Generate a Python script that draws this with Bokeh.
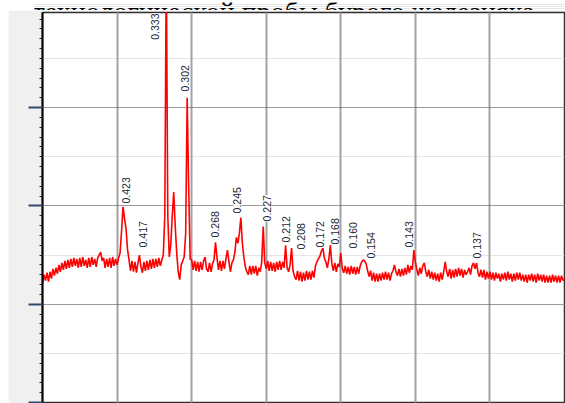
import math
from bokeh.plotting import figure
from bokeh.layouts import column
from bokeh.models import (Range1d, FixedTicker, LinearAxis, LabelSet, ColumnDataSource,
                          Label, Grid)
from bokeh.embed import file_html
from bokeh.resources import INLINE
from bokeh.core.properties import value

# ---------------- data ----------------
caption = "технологической пробы бурого железняка."

scan_start = 10.0   # 2-theta, degrees
scan_step = 0.2
intensity = [
    1210, 1300, 1240, 1320, 1230,   # 10
    1330, 1260, 1360, 1290, 1370,   # 11
    1310, 1400, 1330, 1420, 1350,   # 12
    1440, 1360, 1450, 1370, 1460,   # 13
    1380, 1470, 1390, 1460, 1370,   # 14
    1470, 1380, 1480, 1390, 1450,   # 15
    1370, 1470, 1380, 1480, 1400,   # 16
    1460, 1380, 1470, 1500, 1530,   # 17
    1440, 1470, 1370, 1460, 1380,   # 18
    1470, 1370, 1480, 1390, 1460,   # 19
    1400, 1470, 1520, 1740, 1990,   # 20
    1870, 1770, 1560, 1450, 1340,   # 21
    1440, 1330, 1430, 1320, 1420,   # 22
    1500, 1380, 1320, 1430, 1340,   # 23
    1440, 1350, 1450, 1360, 1460,   # 24
    1370, 1460, 1380, 1470, 1390,   # 25
    1450, 1500, 1900, 4500, 1900,   # 26
    1480, 1600, 1900, 2140, 1790,   # 27
    1520, 1330, 1250, 1400, 1440,   # 28
    1480, 1720, 3100, 2200, 1460,   # 29
    1450, 1350, 1440, 1340, 1430,   # 30
    1330, 1430, 1350, 1440, 1480,   # 31
    1360, 1330, 1420, 1330, 1410,   # 32
    1450, 1630, 1470, 1350, 1440,   # 33
    1340, 1440, 1360, 1460, 1550,   # 34
    1430, 1330, 1420, 1450, 1530,   # 35
    1680, 1620, 1720, 1880, 1620,   # 36
    1480, 1380, 1330, 1300, 1390,   # 37
    1300, 1390, 1310, 1390, 1290,   # 38
    1370, 1330, 1430, 1790, 1420,   # 39
    1360, 1440, 1340, 1430, 1340,   # 40
    1420, 1330, 1430, 1350, 1440,   # 41
    1350, 1430, 1370, 1600, 1370,   # 42
    1330, 1400, 1570, 1340, 1280,   # 43
    1250, 1340, 1240, 1330, 1230,   # 44
    1320, 1240, 1340, 1250, 1330,   # 45
    1250, 1340, 1270, 1390, 1430,   # 46
    1460, 1490, 1540, 1570, 1470,   # 47
    1430, 1370, 1460, 1600, 1410,   # 48
    1340, 1420, 1330, 1410, 1380,   # 49
    1520, 1360, 1320, 1390, 1310,   # 50
    1380, 1300, 1390, 1310, 1380,   # 51
    1300, 1380, 1310, 1390, 1430,   # 52
    1450, 1440, 1410, 1340, 1280,   # 53
    1340, 1240, 1320, 1230, 1310,   # 54
    1230, 1310, 1240, 1320, 1250,   # 55
    1330, 1250, 1320, 1240, 1310,   # 56
    1340, 1400, 1330, 1290, 1360,   # 57
    1280, 1360, 1290, 1370, 1300,   # 58
    1400, 1320, 1390, 1350, 1550,   # 59
    1430, 1350, 1290, 1370, 1310,   # 60
    1390, 1420, 1330, 1280, 1350,   # 61
    1260, 1330, 1250, 1320, 1240,   # 62
    1310, 1230, 1320, 1250, 1330,   # 63
    1430, 1330, 1280, 1360, 1260,   # 64
    1350, 1270, 1360, 1280, 1370,   # 65
    1290, 1360, 1270, 1350, 1300,   # 66
    1330, 1370, 1300, 1390, 1420,   # 67
    1360, 1420, 1320, 1280, 1350,   # 68
    1270, 1350, 1250, 1330, 1260,   # 69
    1330, 1250, 1320, 1240, 1320,   # 70
    1260, 1310, 1230, 1310, 1250,   # 71
    1320, 1240, 1330, 1250, 1310,   # 72
    1230, 1310, 1240, 1320, 1250,   # 73
    1320, 1240, 1300, 1230, 1300,   # 74
    1220, 1300, 1240, 1310, 1230,   # 75
    1300, 1220, 1310, 1240, 1300,   # 76
    1230, 1300, 1220, 1290, 1220,   # 77
    1290, 1220, 1300, 1230, 1290,   # 78
    1220, 1290, 1220, 1290, 1240,   # 79
    1260,                           # 80
]
two_theta = [round(scan_start + scan_step * i, 2) for i in range(len(intensity))]

# peak annotations: d-spacing (nm), label 2-theta, intensity at label start
peak_d = ["0.333", "0.302", "0.423", "0.417", "0.268", "0.245", "0.227", "0.212",
          "0.208", "0.172", "0.168", "0.160", "0.154", "0.143", "0.137"]
peak_label_2theta = [25.15, 29.11, 21.20, 23.54, 33.20, 36.15, 40.17, 42.65,
                     44.60, 47.28, 49.16, 51.64, 53.99, 59.21, 68.27]
peak_label_int = [3690, 3164, 2024, 1577, 1679, 1923, 1842, 1628,
                  1557, 1577, 1607, 1567, 1465, 1577, 1465]

grid_2theta = [20, 30, 40, 50, 60, 70]
grid_int = [1000, 2000, 3000]
minor_int = [v for v in range(100, 3901, 100) if v % 1000 != 0]

# ---------------- caption strip (cut off at the top of the page) ----------------
cap_fig = figure(width=565, height=10, output_backend="svg", toolbar_location=None,
                 x_range=Range1d(0, 1), y_range=Range1d(0, 1),
                 x_axis_location=None, y_axis_location=None,
                 min_border=0, outline_line_color=None,
                 background_fill_color="white", border_fill_color="white")
cap = Label(x=-2, y=1, x_units="screen", y_units="screen", text=caption,
            text_font="Liberation Serif", text_font_size="28px",
            text_baseline="alphabetic", text_color="black")
cap_fig.add_layout(cap)

# ---------------- main chart ----------------
p = figure(width=557, height=393, output_backend="svg", toolbar_location=None,
           x_range=Range1d(10, 80), y_range=Range1d(0, 3967),
           x_axis_location=None, y_axis_location=None,
           min_border_left=34, min_border_right=1, min_border_top=2, min_border_bottom=1,
           background_fill_color="white", border_fill_color="#f0f0f0",
           outline_line_color="#303030", outline_line_width=1.5,
           styles={"margin-left": "8px"})

xg = Grid(dimension=0, ticker=FixedTicker(ticks=grid_2theta),
          grid_line_color="#a3a3a3", grid_line_width=2)
yg = Grid(dimension=1, ticker=FixedTicker(ticks=grid_int),
          grid_line_color="#505050", grid_line_width=1, grid_line_dash="1 1")
p.add_layout(xg)
p.add_layout(yg)

yax = LinearAxis(ticker=FixedTicker(ticks=[0] + grid_int, minor_ticks=minor_int),
                 major_tick_out=14, major_tick_in=0, major_tick_line_color="#2e4a6a",
                 major_tick_line_width=2,
                 minor_tick_out=3, minor_tick_in=0, minor_tick_line_color="#202020",
                 axis_line_color="black", axis_line_width=2,
                 major_label_overrides={0: "", 1000: "", 2000: "", 3000: ""},
                 major_label_standoff=0)
p.add_layout(yax, "left")

src = ColumnDataSource(dict(x=two_theta, y=intensity))
p.line("x", "y", source=src, line_color="#ff0000", line_width=1.6)

lab_src = ColumnDataSource(dict(x=peak_label_2theta, y=peak_label_int, text=peak_d))
labels = LabelSet(x="x", y="y", text="text", source=lab_src, angle=math.pi / 2,
                  text_align="left", text_baseline="middle",
                  text_font=value("Liberation Sans"),
                  text_font_size="10.5px", text_color="#1a1f33",
                  background_fill_color="white", background_fill_alpha=1)
p.add_layout(labels)

layout = column(cap_fig, p, spacing=0)
open("out.html", "w").write(file_html(layout, INLINE))
